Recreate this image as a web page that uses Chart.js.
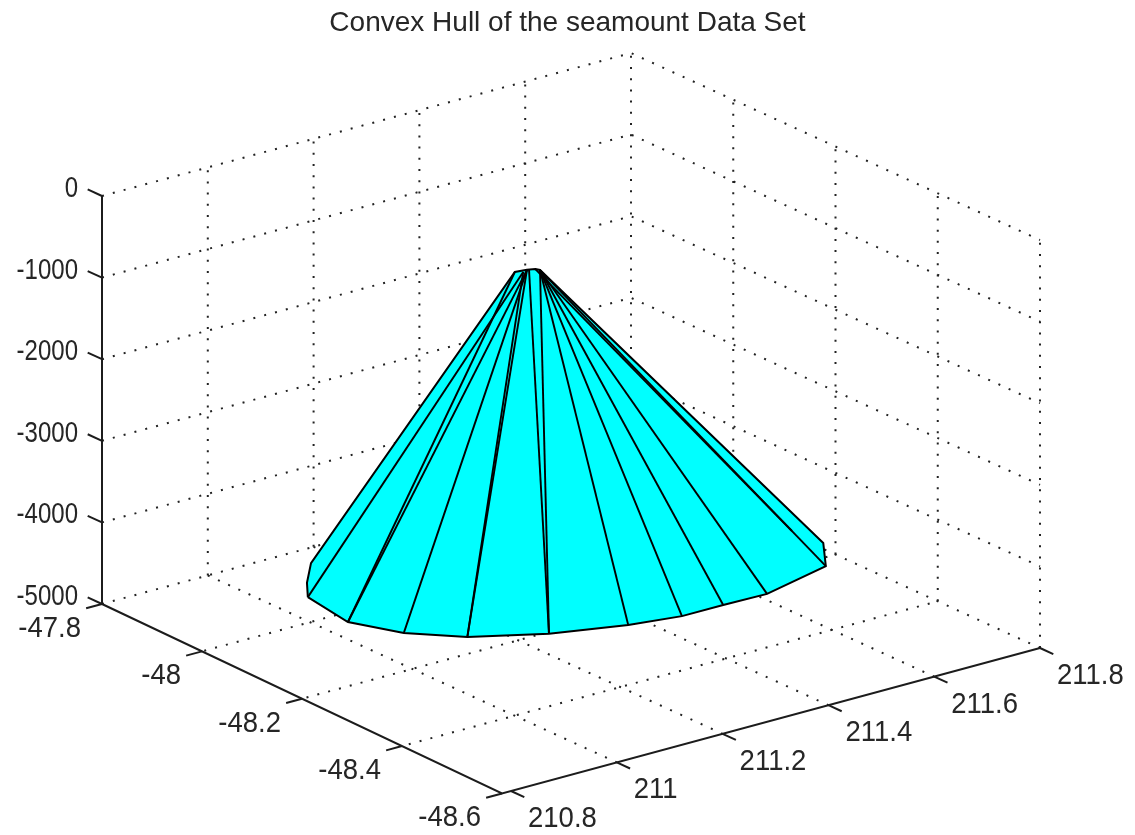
<!DOCTYPE html>
<html><head><meta charset="utf-8">
<style>html,body{margin:0;padding:0;background:#fff}canvas{display:block}</style>
<script src="https://cdn.jsdelivr.net/npm/chart.js@4"></script>
</head><body><canvas id="c" width="1135" height="835"></canvas>
<script>
const titleText = 'Convex Hull of the seamount Data Set';
const lonTicks = [210.8, 211, 211.2, 211.4, 211.6, 211.8];
const latTicks = [-47.8, -48, -48.2, -48.4, -48.6];
const depthTicks = [0, -1000, -2000, -3000, -4000, -5000];

// hull outline, foot of the cone then summit, in data units
const baseLon = [211.020, 211.003, 211.041, 211.106, 211.211, 211.328, 211.415, 211.493, 211.574, 211.716, 211.773, 211.112, 211.056, 211.767];
const baseLat = [-47.975, -48.071, -48.141, -48.198, -48.249, -48.283, -48.298, -48.298, -48.300, -48.268, -48.204, -47.886, -47.936, -48.149];
const baseDepth = [-4800, -4800, -4800, -4800, -4800, -4800, -4800, -4800, -4800, -4800, -4800, -4800, -4800, -4800];
const outlineBefore = [0, 1, 2, 3, 4, 5, 6, 7, 8, 9, 10];
const outlineAfter = [11, 12, 0];
const apexLon = [211.305, 211.325, 211.337, 211.340, 211.315, 211.327];
const apexLat = [-48.085, -48.088, -48.092, -48.098, -48.091, -48.090];
const apexDepth = [-1000, -1000, -1000, -1000, -1000, -1000];
const apexOutline = [3, 2, 1, 0];
const ridgeFoot = [0, 1, 1, 2, 3, 3, 4, 4, 5, 6, 7, 8, 9, 13];
const ridgeTop  = [4, 0, 1, 1, 4, 1, 5, 3, 3, 3, 3, 3, 3, 2];

// oblique view of the box (MATLAB default view)
function project(lon, lat, z) {
  const a = lon - 210.8, b = (-47.8 - lat) / 0.8, c = (z + 5000) / 5000;
  return { x: 102 + 529 * a + 409 * b, y: 604 - 143 * a + 187 * b - 408 * c };
}
const latEdgeLon = lat => 210.8 - 0.017 * (-47.8 - lat) / 0.8;

const datasets = [];
function seg(points, opts) {
  datasets.push(Object.assign({ data: points, showLine: true, pointRadius: 0, tension: 0, fill: false }, opts));
}
const dotted = { borderColor: '#222', borderWidth: 2, borderDash: [2, 9.2], order: 5 };
const solid = { borderColor: '#1c1c1c', borderWidth: 2, order: 4 };

const lonMin = lonTicks[0], lonMax = lonTicks[5], latMax = latTicks[0], latMin = latTicks[4], zTop = depthTicks[0], zBot = depthTicks[5];
// dotted grid
lonTicks.forEach(l => {
  if (l !== lonMin) seg([project(l, latMax, zBot), project(l, latMin, zBot)], dotted);
  if (l !== lonMin) seg([project(l, latMax, zBot), project(l, latMax, zTop)], dotted);
});
latTicks.forEach(l => {
  if (l !== latMin) seg([project(lonMin, l, zBot), project(lonMax, l, zBot)], dotted);
  if (l !== latMax) seg([project(lonMax, l, zBot), project(lonMax, l, zTop)], dotted);
});
depthTicks.forEach(z => {
  if (z !== zBot) seg([project(lonMin, latMax, z), project(lonMax, latMax, z), project(lonMax, latMin, z)], dotted);
});
// axes and ticks
seg([project(lonMin, latMax, zBot), project(lonMin, latMax, zTop)], solid);
seg([project(lonMin, latMax, zBot), project(latEdgeLon(latMin), latMin, zBot), project(lonMax, latMin, zBot)], solid);
depthTicks.forEach(z => seg([project(lonMin, latMax, z), project(lonMin, latMax + 0.028, z)], solid));
latTicks.forEach(l => { const e = latEdgeLon(l); seg([project(e, l, zBot), project(e - 0.03, l, zBot)], solid); });
lonTicks.forEach(l => seg([project(l, latMin, zBot), project(l, latMin - 0.026, zBot)], solid));

// hull
const basePt = i => project(baseLon[i], baseLat[i], baseDepth[i]);
const apexPt = i => project(apexLon[i], apexLat[i], apexDepth[i]);
const outline = [...outlineBefore.map(basePt), ...apexOutline.map(apexPt), ...outlineAfter.map(basePt)];
seg(outline, { borderColor: '#000', borderWidth: 2, backgroundColor: '#00ffff', fill: 'shape', order: 2 });
ridgeFoot.forEach((f, i) => seg([basePt(f), apexPt(ridgeTop[i])], { borderColor: '#000', borderWidth: 1.9, order: 1 }));

const tickText = {
  id: 'tickText',
  afterDatasetsDraw(chart) {
    const { ctx, scales: { x, y } } = chart;
    const put = (text, p, dx, dy, size, stretch, align) => {
      ctx.save();
      ctx.font = size + 'px "Liberation Sans", Arial, sans-serif';
      ctx.fillStyle = '#262626';
      ctx.textBaseline = 'middle';
      ctx.textAlign = align;
      ctx.translate(x.getPixelForValue(p.x) + dx, y.getPixelForValue(p.y) + dy);
      ctx.scale(1, stretch);
      ctx.fillText(text, 0, 0);
      ctx.restore();
    };
    depthTicks.forEach(z => put(String(z), project(lonMin, latMax, z), -24, -7, 24, 1.2, 'right'));
    latTicks.forEach(l => put(String(l), project(latEdgeLon(l), l, zBot), -21, 25, 27.5, 1.06, 'right'));
    lonTicks.forEach(l => put(String(l), project(l, latMin, zBot), 17, 28, 27.5, 1.06, 'left'));
  }
};

new Chart(document.getElementById('c'), {
  type: 'scatter',
  data: { datasets },
  plugins: [tickText],
  options: {
    responsive: false, animation: false, parsing: false, normalized: false,
    layout: { padding: 0 },
    plugins: {
      legend: { display: false }, tooltip: { enabled: false },
      title: { display: true, text: titleText, color: '#262626',
        font: { family: '"Liberation Sans", Arial, sans-serif', size: 28, weight: 'normal', lineHeight: 1.25 },
        padding: { top: 6, bottom: 9 } }
    },
    scales: {
      x: { type: 'linear', min: 0, max: 1135, display: false },
      y: { type: 'linear', min: 50, max: 835, reverse: true, display: false }
    }
  }
});
</script></body></html>
